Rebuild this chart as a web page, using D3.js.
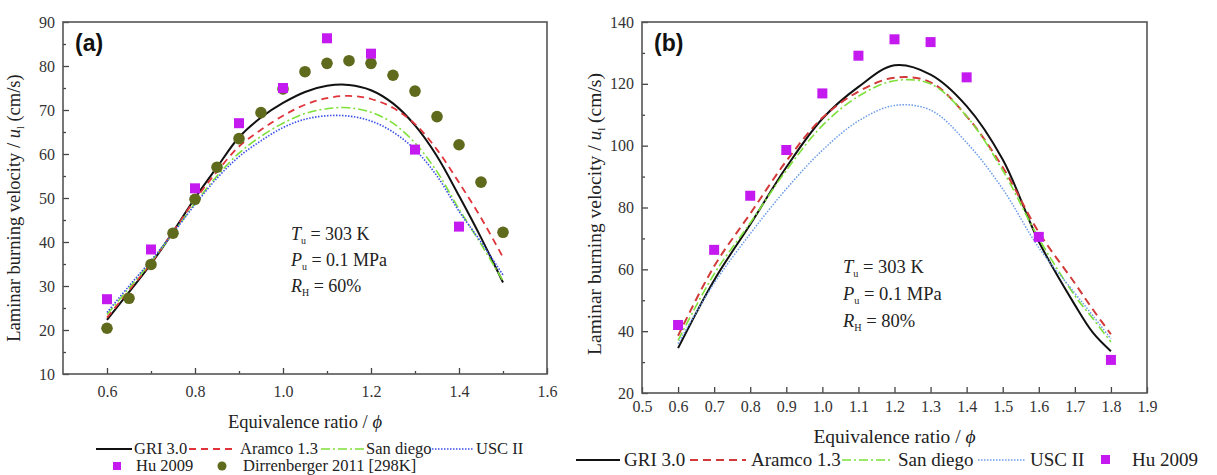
<!DOCTYPE html>
<html><head><meta charset="utf-8">
<script src="https://cdn.jsdelivr.net/npm/d3@7"></script>
<style>
body{margin:0;background:#fff;}
svg{display:block;}
svg text{font-family:"Liberation Serif","Times New Roman",Times,"DejaVu Serif",serif;}
svg text.tag{font-family:"Liberation Sans",Arial,sans-serif;}
</style></head>
<body><svg id="c" width="1217" height="475"></svg>
<script>
// ---------- Panel (a) data ----------
const aCurveX = [0.6,0.65,0.7,0.75,0.8,0.85,0.9,0.95,1.0,1.05,1.1,1.15,1.2,1.25,1.3,1.35,1.4,1.45,1.5];
const aGRI    = [22.3,28.6,35,42.3,50,57,63.8,68.3,71.6,74.1,75.5,75.7,74.5,71.5,66.5,59.5,50.5,41,30.8];
const aAramco = [22.8,29,35.2,42.3,49.6,56,61.7,65.5,68.7,71.2,72.7,73.2,72.5,70.5,66.8,61,53.5,45.5,36.5];
const aSanDiego=[23.5,29.5,35.5,42,48.8,55,60.2,64,67,69.2,70.3,70.5,69.5,67,62.5,56,47.5,39.5,31.2];
const aUSC    = [24,30,35.8,42,48.5,54.5,59.4,63,66,67.9,68.7,68.6,67.5,65,61,55,47,40,32.5];
const aHuX    = [0.6,0.7,0.8,0.9,1.0,1.1,1.2,1.3,1.4];
const aHuY    = [27,38.3,52.2,67,75,86.3,82.8,61,43.5];
const aDirX   = [0.6,0.65,0.7,0.75,0.8,0.85,0.9,0.95,1.0,1.05,1.1,1.15,1.2,1.25,1.3,1.35,1.4,1.45,1.5];
const aDirY   = [20.4,27.2,34.9,42,49.7,57,63.5,69.4,74.8,78.7,80.6,81.2,80.6,77.9,74.3,68.5,62.1,53.6,42.2];
const aXTicks = [0.6,0.8,1.0,1.2,1.4,1.6];
const aXMinor = [0.7,0.9,1.1,1.3,1.5];
const aYTicks = [10,20,30,40,50,60,70,80,90];
const aYMinor = [15,25,35,45,55,65,75,85];

// ---------- Panel (b) data ----------
const bCurveX = [0.6,0.7,0.8,0.9,1.0,1.1,1.2,1.3,1.4,1.5,1.6,1.7,1.75,1.8];
const bGRI    = [34.5,56.5,74.5,93,108.7,119,126,123,112.8,95.5,69,48.5,39.5,33.5];
const bAramco = [38.5,61,78,95,109,117.5,122,120.5,109.5,93,72,55.5,47,39];
const bSanDiego=[37,58.5,75,92,106.5,116,121,120,109.5,92,70,51.5,44,36.5];
const bUSC    = [36,55.5,71.5,86,98.5,108,113,111.5,101,86,67,52.3,45,37.5];
const bHuX    = [0.6,0.7,0.8,0.9,1.0,1.1,1.2,1.3,1.4,1.6,1.8];
const bHuY    = [42,66.3,83.8,98.6,116.9,129.1,134.4,133.5,122.1,70.5,30.7];
const bXTicks = [0.5,0.6,0.7,0.8,0.9,1.0,1.1,1.2,1.3,1.4,1.5,1.6,1.7,1.8,1.9];
const bYTicks = [20,40,60,80,100,120,140];
const bYMinor = [30,50,70,90,110,130];

const svg = d3.select("#c");
const C = {
  black:"#111", red:"#e0343a", green:"#7ee03a", blue:"#3a4fe8", blueB:"#6b9be8",
  mag:"#c41af0", olive:"#5f6a1c", frame:"#555", tick:"#444"
};

function panel(o){
  const g = svg.append("g");
  const x = d3.scaleLinear().domain(o.xd).range([o.L,o.R]);
  const y = d3.scaleLinear().domain(o.yd).range([o.B,o.T]);
  const xa = d3.axisBottom(x).tickValues(o.xt).tickSizeInner(-6).tickSizeOuter(0).tickPadding(o.xpad)
    .tickFormat(d3.format(".1f"));
  g.append("g").attr("transform",`translate(0,${o.B})`).call(xa);
  const ya = d3.axisLeft(y).tickValues(o.yt).tickSizeInner(-6).tickSizeOuter(0).tickPadding(8).tickFormat(d3.format("d"));
  g.append("g").attr("transform",`translate(${o.L},0)`).call(ya);
  if(o.xm){ g.append("g").attr("transform",`translate(0,${o.B})`)
     .call(d3.axisBottom(x).tickValues(o.xm).tickSizeInner(-3).tickSizeOuter(0).tickFormat(""));}
  if(o.ym){ g.append("g").attr("transform",`translate(${o.L},0)`)
     .call(d3.axisLeft(y).tickValues(o.ym).tickSizeInner(-3).tickSizeOuter(0).tickFormat(""));}
  g.selectAll(".domain").remove();
  g.selectAll("g").attr("font-family",null);
  g.selectAll(".tick line").attr("stroke",C.tick).attr("stroke-width",1.3);
  g.selectAll(".tick text").attr("fill","#333").style("font-size",o.tfs+"px");
  g.append("rect").attr("x",o.L).attr("y",o.T).attr("width",o.R-o.L).attr("height",o.B-o.T)
   .attr("fill","none").attr("stroke",C.frame).attr("stroke-width",1.6);
  const line = (xs,ys)=>d3.line().curve(d3.curveCatmullRom.alpha(0.5)).x((d,i)=>x(xs[i])).y(d=>y(d))(ys);
  o.series.forEach(s=>{
    g.append("path").attr("d",line(o.cx,s.v)).attr("fill","none").attr("stroke",s.c)
      .attr("stroke-width",s.w).attr("stroke-dasharray",s.dash||null);
  });
  if(o.dir){
    g.selectAll(".dir").data(o.dir.y).join("circle").attr("cx",(d,i)=>x(o.dir.x[i])).attr("cy",d=>y(d))
      .attr("r",5.8).attr("fill",C.olive);
  }
  const s = o.sq;
  g.selectAll(".hu").data(o.hu.y).join("rect").attr("x",(d,i)=>x(o.hu.x[i])-s/2).attr("y",d=>y(d)-s/2)
    .attr("width",s).attr("height",s).attr("fill",C.mag);
  g.append("text").attr("class","tag").attr("x",o.L+12).attr("y",o.T+29).text(o.tag)
    .style("font-weight","bold").style("font-size","23px").attr("fill","#111");
  const ann = g.append("g").style("font-size",o.afs+"px").attr("fill","#222");
  const lines = [["T","u"," = 303 K"],["P","u"," = 0.1 MPa"],["R","H"," = "+o.rh]];
  lines.forEach((l,i)=>{
    const t = ann.append("text").attr("x",o.ax).attr("y",o.ay+i*o.adY);
    t.append("tspan").text(l[0]).style("font-style","italic");
    t.append("tspan").text(l[1]).attr("dy",4).style("font-size",(o.afs*0.55)+"px");
    t.append("tspan").text(l[2]).attr("dy",-4);
  });
  const yt = g.append("text").attr("transform",`translate(${o.ytx},${o.ytc}) rotate(-90)`)
    .attr("text-anchor","middle").style("font-size",o.yfs+"px").attr("fill","#222");
  yt.append("tspan").text("Laminar burning velocity / ");
  yt.append("tspan").text("u").style("font-style","italic");
  yt.append("tspan").text("l").attr("dy",4).style("font-size",(o.yfs*0.55)+"px");
  yt.append("tspan").text(" (cm/s)").attr("dy",-4);
  const xt = g.append("text").attr("x",(o.L+o.R)/2).attr("y",o.xty).attr("text-anchor","middle")
    .style("font-size",o.xfs+"px").attr("fill","#222");
  xt.append("tspan").text("Equivalence ratio / ");
  xt.append("tspan").text("\u03d5").style("font-style","italic");
  return {g,x,y};
}

const seriesA = [
  {v:aGRI,c:C.black,w:2},
  {v:aAramco,c:C.red,w:1.8,dash:"7,5"},
  {v:aSanDiego,c:C.green,w:1.6,dash:"9,3,2,3"},
  {v:aUSC,c:C.blue,w:1.6,dash:"1.5,1.5"}
];
panel({L:63,R:547,T:22,B:374,xd:[0.5,1.6],yd:[10,90],xt:aXTicks,xm:aXMinor,yt:aYTicks,ym:aYMinor,
  xpad:12,tfs:16,cx:aCurveX,series:seriesA,dir:{x:aDirX,y:aDirY},hu:{x:aHuX,y:aHuY},sq:10,tag:"(a)",
  afs:18,ax:291,ay:240,adY:26,rh:"60%",ytx:20,ytc:208,yfs:18.5,xty:428,xfs:18.5});

const seriesB = [
  {v:bGRI,c:C.black,w:2},
  {v:bAramco,c:"#d23a3a",w:2,dash:"8,5"},
  {v:bSanDiego,c:C.green,w:1.6,dash:"9,3,2,3"},
  {v:bUSC,c:C.blueB,w:1.5,dash:"1.5,1.5"}
];
panel({L:642,R:1147,T:22,B:393,xd:[0.5,1.9],yd:[20,140],xt:bXTicks,yt:bYTicks,ym:bYMinor,
  xpad:8,tfs:16,cx:bCurveX,series:seriesB,hu:{x:bHuX,y:bHuY},sq:10,tag:"(b)",
  afs:18.5,ax:843,ay:273,adY:27,rh:"80%",ytx:601,ytc:214,yfs:19.5,xty:443,xfs:19.5});

function legLine(g,x1,x2,y,s){
  g.append("line").attr("x1",x1).attr("x2",x2).attr("y1",y).attr("y2",y).attr("stroke",s.c)
   .attr("stroke-width",s.w).attr("stroke-dasharray",s.dash||null);
}
const names = ["GRI 3.0","Aramco 1.3","San diego","USC II"];
const la = svg.append("g").style("font-size","16.5px").attr("fill","#222");
const aPos = [[96,132,134],[189,236,240],[321,364,366],[432,473,476]];
aPos.forEach((p,i)=>{ legLine(la,p[0],p[1],449,seriesA[i]); la.append("text").attr("x",p[2]).attr("y",454).text(names[i]); });
la.append("rect").attr("x",113).attr("y",462).attr("width",8).attr("height",8).attr("fill",C.mag);
la.append("text").attr("x",136).attr("y",471).text("Hu 2009");
la.append("circle").attr("cx",222).attr("cy",466).attr("r",4.5).attr("fill",C.olive);
la.append("text").attr("x",243).attr("y",471).text("Dirrenberger 2011 [298K]");
const lb = svg.append("g").style("font-size","19px").attr("fill","#222");
const bPos = [[576,620,624],[690,746,751],[842,893,898],[978,1026,1030]];
bPos.forEach((p,i)=>{ legLine(lb,p[0],p[1],460,seriesB[i]); lb.append("text").attr("x",p[2]).attr("y",466).text(names[i]); });
lb.append("rect").attr("x",1101).attr("y",455).attr("width",9).attr("height",9).attr("fill",C.mag);
lb.append("text").attr("x",1132).attr("y",466).text("Hu 2009");
</script></body></html>
